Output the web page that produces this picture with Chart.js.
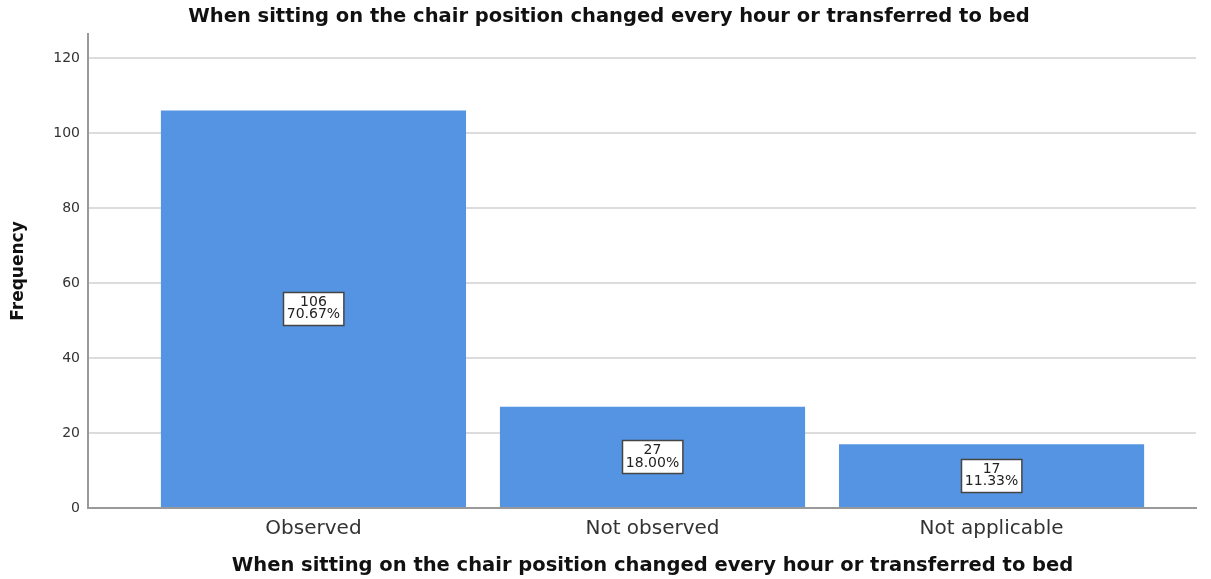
<!DOCTYPE html>
<html><head><meta charset="utf-8">
<script src="https://cdn.jsdelivr.net/npm/chart.js@4.4.1/dist/chart.umd.min.js"></script>
<style>html,body{margin:0;padding:0;background:#fff}#wrap{width:1211px;height:579px}</style>
</head><body><div id="wrap"><canvas id="c" width="1211" height="579"></canvas></div>
<script>
const categories = ["Observed", "Not observed", "Not applicable"];
const frequencies = [106, 27, 17];
const percentLabels = ["70.67%", "18.00%", "11.33%"];
const yTicks = [0, 20, 40, 60, 80, 100, 120];
const chartTitle = "When sitting on the chair position changed every hour or transferred to bed";
const xAxisTitle = "When sitting on the chair position changed every hour or transferred to bed";
const yAxisTitle = "Frequency";

const FONT = "'DejaVu Sans', sans-serif";
const points = frequencies.map((v, i) => ({x: i, y: v}));

const labelPlugin = {
  id: 'barLabels',
  afterDatasetsDraw(chart) {
    const ctx = chart.ctx;
    const meta = chart.getDatasetMeta(0);
    ctx.save();
    ctx.font = "14px " + FONT;
    ctx.textAlign = 'center';
    ctx.textBaseline = 'middle';
    meta.data.forEach((bar, i) => {
      const cx = bar.x;
      const cy = (bar.y + bar.base) / 2;
      const l1 = String(frequencies[i]), l2 = percentLabels[i];
      const w = Math.max(ctx.measureText(l1).width, ctx.measureText(l2).width) + 7;
      const h = 33;
      const x0 = Math.round(cx - w/2) + 0.5, y0 = Math.round(cy - h/2) + 0.5;
      ctx.fillStyle = '#fff';
      ctx.fillRect(x0, y0, w, h);
      ctx.strokeStyle = '#444';
      ctx.lineWidth = 1.5;
      ctx.strokeRect(x0, y0, w, h);
      ctx.fillStyle = '#222';
      ctx.fillText(l1, cx, cy - 6.5);
      ctx.fillText(l2, cx, cy + 6);
    });
    ctx.restore();
  },
  afterDraw(chart) {
    const ctx = chart.ctx;
    const xs = chart.scales.x;
    ctx.save();
    ctx.font = "bold 19.5px " + FONT;
    ctx.fillStyle = '#111';
    ctx.textAlign = 'center';
    ctx.textBaseline = 'middle';
    ctx.fillText(chartTitle, 609, 17);
    ctx.fillText(xAxisTitle, xs.getPixelForValue(1), 566);
    ctx.restore();
  }
};

new Chart(document.getElementById('c'), {
  type: 'bar',
  data: {
    datasets: [{
      data: points,
      backgroundColor: '#5594e3',
      borderWidth: 0,
      barPercentage: 0.9,
      categoryPercentage: 1.0
    }]
  },
  options: {
    responsive: false,
    animation: false,
    events: [],
    layout: {padding: {left: 0, right: 15, top: 34, bottom: 0}},
    plugins: {
      legend: {display: false},
      tooltip: {enabled: false},
      title: {display: false}
    },
    scales: {
      x: {
        type: 'linear',
        min: -0.665,
        max: 2.603,
        offset: false,
        afterFit(s) { s.height = 71; },
        afterBuildTicks(s) { s.ticks = categories.map((c, i) => ({value: i})); },
        ticks: {
          autoSkip: false,
          maxRotation: 0,
          padding: 9,
          color: '#333',
          font: {family: FONT, size: 20},
          callback: (v) => categories[v]
        },
        grid: {display: false, drawTicks: false},
        border: {display: true, color: '#999', width: 2}
      },
      y: {
        min: 0,
        max: 126.4,
        afterFit(s) { s.width = 88; },
        afterBuildTicks(s) { s.ticks = yTicks.map(v => ({value: v})); },
        ticks: {
          padding: 8,
          color: '#333',
          font: {family: FONT, size: 14}
        },
        grid: {color: '#dcdcdc', lineWidth: 2, drawTicks: false, tickLength: 0},
        border: {display: true, color: '#999', width: 2},
        title: {
          display: true,
          text: yAxisTitle,
          color: '#111',
          font: {family: FONT, size: 17, weight: 'bold'},
          padding: {top: 8, bottom: 0}
        }
      }
    }
  },
  plugins: [labelPlugin]
});
</script>
</body></html>
